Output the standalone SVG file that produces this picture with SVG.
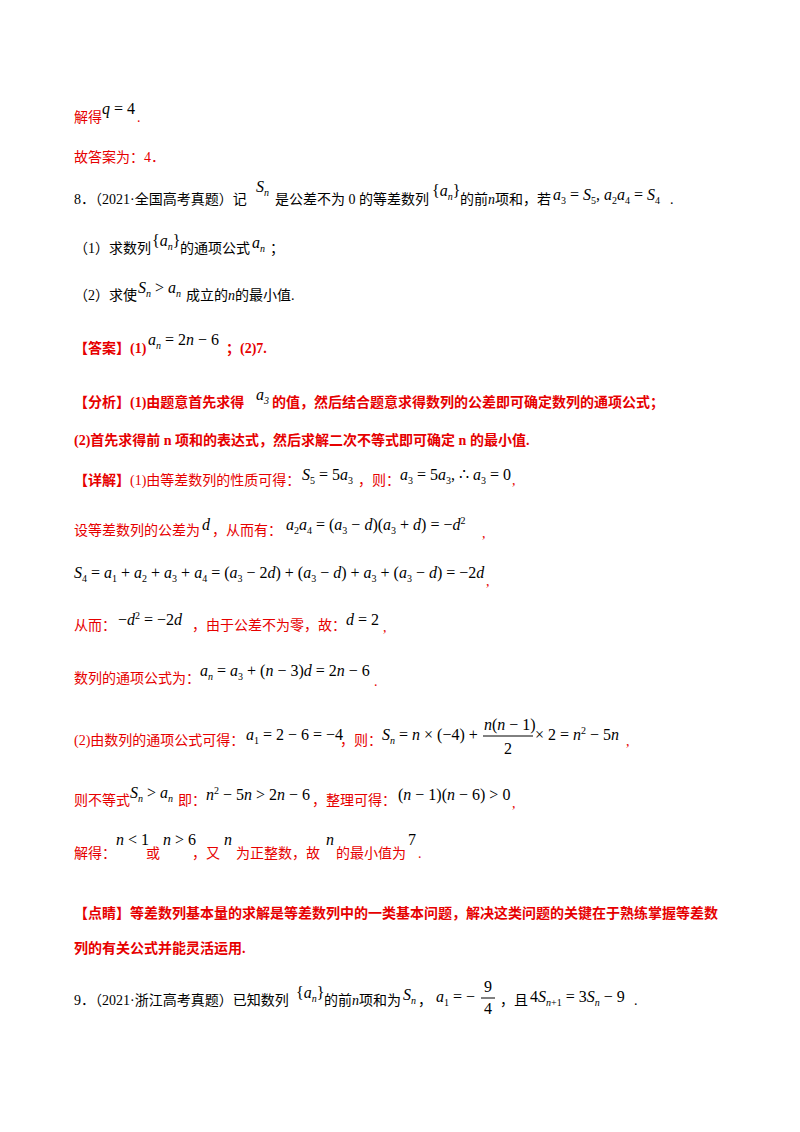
<svg xmlns="http://www.w3.org/2000/svg" width="800" height="1132" viewBox="0 0 800 1132">
<style>
text{font-family:"Liberation Serif","Noto Sans CJK SC",serif;font-size:14px;fill:#000}
.r{fill:#e60000}
.b{font-weight:bold}
.m{font-family:"Liberation Serif",serif;font-size:16px}
.i{font-style:italic}
.s{font-size:10px}
</style>
<rect width="800" height="1132" fill="#fff"/>
<text class="r" x="74" y="122">解得</text>
<text class="m" x="102" y="114"><tspan class="i">q</tspan> = 4</text>
<text class="r" x="137" y="122">.</text>
<text class="r" x="74" y="162">故答案为：4．</text>

<text x="74" y="204">8．（2021·全国高考真题）记</text>
<text class="m" x="256" y="192"><tspan class="i">S</tspan><tspan class="i s" dy="4">n</tspan></text>
<text x="275" y="204">是公差不为 0 的等差数列</text>
<text class="m" x="432" y="196">{<tspan class="i">a</tspan><tspan class="i s" dy="4">n</tspan><tspan dy="-4">}</tspan></text>
<text x="460" y="204">的前<tspan class="i">n</tspan>项和，若</text>
<text class="m" x="553" y="200"><tspan class="i">a</tspan><tspan class="s" dy="4">3</tspan><tspan dy="-4"> = </tspan><tspan class="i">S</tspan><tspan class="s" dy="4">5</tspan><tspan dy="-4">, </tspan><tspan class="i">a</tspan><tspan class="s" dy="4">2</tspan><tspan class="i" dy="-4">a</tspan><tspan class="s" dy="4">4</tspan><tspan dy="-4"> = </tspan><tspan class="i">S</tspan><tspan class="s" dy="4">4</tspan></text>
<text x="670" y="204">.</text>

<text x="74" y="253">（1）求数列</text>
<text class="m" x="152" y="246">{<tspan class="i">a</tspan><tspan class="i s" dy="4">n</tspan><tspan dy="-4">}</tspan></text>
<text x="180" y="253">的通项公式</text>
<text class="m i" x="252" y="248">a<tspan class="s" dy="4">n</tspan></text>
<text x="270" y="253">；</text>

<text x="74" y="300">（2）求使</text>
<text class="m" x="138" y="293"><tspan class="i">S</tspan><tspan class="i s" dy="4">n</tspan><tspan dy="-4"> &gt; </tspan><tspan class="i">a</tspan><tspan class="i s" dy="4">n</tspan></text>
<text x="186" y="300">成立的<tspan class="i">n</tspan>的最小值.</text>

<text class="r b" x="74" y="353">【答案】(1)</text>
<text class="m" x="148" y="345"><tspan class="i">a</tspan><tspan class="i s" dy="4">n</tspan><tspan dy="-4"> = 2</tspan><tspan class="i">n</tspan> − 6</text>
<text class="r b" x="226" y="353">；(2)7.</text>

<text class="r b" x="74" y="407">【分析】(1)由题意首先求得</text>
<text class="m i" x="256" y="400">a<tspan class="s" dy="4">3</tspan></text>
<text class="r b" x="272" y="407">的值，然后结合题意求得数列的公差即可确定数列的通项公式；</text>
<text class="r b" x="74" y="445">(2)首先求得前 n 项和的表达式，然后求解二次不等式即可确定 n 的最小值.</text>

<text class="r" x="74" y="485"><tspan class="b">【详解】</tspan>(1)由等差数列的性质可得：</text>
<text class="m" x="302" y="480"><tspan class="i">S</tspan><tspan class="s" dy="4">5</tspan><tspan dy="-4"> = 5</tspan><tspan class="i">a</tspan><tspan class="s" dy="4">3</tspan></text>
<text class="r" x="358" y="485">，则：</text>
<text class="m" x="400" y="480"><tspan class="i">a</tspan><tspan class="s" dy="4">3</tspan><tspan dy="-4"> = 5</tspan><tspan class="i">a</tspan><tspan class="s" dy="4">3</tspan><tspan dy="-4">, ∴ </tspan><tspan class="i">a</tspan><tspan class="s" dy="4">3</tspan><tspan dy="-4"> = 0</tspan></text>
<text class="r" x="512" y="485">,</text>

<text class="r" x="74" y="535">设等差数列的公差为</text>
<text class="m i" x="202" y="530">d</text>
<text class="r" x="212" y="535">，从而有：</text>
<text class="m" x="286" y="530"><tspan class="i">a</tspan><tspan class="s" dy="4">2</tspan><tspan class="i" dy="-4">a</tspan><tspan class="s" dy="4">4</tspan><tspan dy="-4"> = (</tspan><tspan class="i">a</tspan><tspan class="s" dy="4">3</tspan><tspan dy="-4"> − </tspan><tspan class="i">d</tspan>)(<tspan class="i">a</tspan><tspan class="s" dy="4">3</tspan><tspan dy="-4"> + </tspan><tspan class="i">d</tspan>) = −<tspan class="i">d</tspan><tspan class="s" dy="-6">2</tspan></text>
<text class="r" x="482" y="538">,</text>

<text class="m" x="74" y="578"><tspan class="i">S</tspan><tspan class="s" dy="4">4</tspan><tspan dy="-4"> = </tspan><tspan class="i">a</tspan><tspan class="s" dy="4">1</tspan><tspan dy="-4"> + </tspan><tspan class="i">a</tspan><tspan class="s" dy="4">2</tspan><tspan dy="-4"> + </tspan><tspan class="i">a</tspan><tspan class="s" dy="4">3</tspan><tspan dy="-4"> + </tspan><tspan class="i">a</tspan><tspan class="s" dy="4">4</tspan><tspan dy="-4"> = (</tspan><tspan class="i">a</tspan><tspan class="s" dy="4">3</tspan><tspan dy="-4"> − 2</tspan><tspan class="i">d</tspan>) + (<tspan class="i">a</tspan><tspan class="s" dy="4">3</tspan><tspan dy="-4"> − </tspan><tspan class="i">d</tspan>) + <tspan class="i">a</tspan><tspan class="s" dy="4">3</tspan><tspan dy="-4"> + (</tspan><tspan class="i">a</tspan><tspan class="s" dy="4">3</tspan><tspan dy="-4"> − </tspan><tspan class="i">d</tspan>) = −2<tspan class="i">d</tspan></text>
<text class="r" x="486" y="586">,</text>

<text class="r" x="74" y="630">从而：</text>
<text class="m" x="118" y="625">−<tspan class="i">d</tspan><tspan class="s" dy="-6">2</tspan><tspan dy="6"> = −2</tspan><tspan class="i">d</tspan></text>
<text class="r" x="192" y="630">，由于公差不为零，故：</text>
<text class="m" x="346" y="625"><tspan class="i">d</tspan> = 2</text>
<text class="r" x="383" y="632">,</text>

<text class="r" x="74" y="683">数列的通项公式为：</text>
<text class="m" x="200" y="676"><tspan class="i">a</tspan><tspan class="i s" dy="4">n</tspan><tspan dy="-4"> = </tspan><tspan class="i">a</tspan><tspan class="s" dy="4">3</tspan><tspan dy="-4"> + (</tspan><tspan class="i">n</tspan> − 3)<tspan class="i">d</tspan> = 2<tspan class="i">n</tspan> − 6</text>
<text class="r" x="374" y="686">.</text>

<text class="r" x="74" y="745">(2)由数列的通项公式可得：</text>
<text class="m" x="246" y="740"><tspan class="i">a</tspan><tspan class="s" dy="4">1</tspan><tspan dy="-4"> = 2 − 6 = −4</tspan></text>
<text class="r" x="340" y="745">，则：</text>
<text class="m" x="382" y="740"><tspan class="i">S</tspan><tspan class="i s" dy="4">n</tspan><tspan dy="-4"> = </tspan><tspan class="i">n</tspan> × (−4) +</text>
<text class="m" x="484" y="730"><tspan class="i">n</tspan>(<tspan class="i">n</tspan> − 1)</text>
<line x1="483" y1="736" x2="533" y2="736" stroke="#000" stroke-width="1"/>
<text class="m" x="504" y="754">2</text>
<text class="m" x="535" y="740">× 2 = <tspan class="i">n</tspan><tspan class="s" dy="-6">2</tspan><tspan dy="6"> − 5</tspan><tspan class="i">n</tspan></text>
<text class="r" x="626" y="746">,</text>

<text class="r" x="74" y="805">则不等式</text>
<text class="m" x="130" y="798"><tspan class="i">S</tspan><tspan class="i s" dy="4">n</tspan><tspan dy="-4"> &gt; </tspan><tspan class="i">a</tspan><tspan class="i s" dy="4">n</tspan></text>
<text class="r" x="178" y="805">即：</text>
<text class="m" x="206" y="800"><tspan class="i">n</tspan><tspan class="s" dy="-6">2</tspan><tspan dy="6"> − 5</tspan><tspan class="i">n</tspan> &gt; 2<tspan class="i">n</tspan> − 6</text>
<text class="r" x="312" y="805">，整理可得：</text>
<text class="m" x="398" y="800">(<tspan class="i">n</tspan> − 1)(<tspan class="i">n</tspan> − 6) &gt; 0</text>
<text class="r" x="512" y="808">,</text>

<text class="r" x="74" y="858">解得：</text>
<text class="m" x="116" y="845"><tspan class="i">n</tspan> &lt; 1</text>
<text class="r" x="146" y="858">或</text>
<text class="m" x="163" y="845"><tspan class="i">n</tspan> &gt; 6</text>
<text class="r" x="192" y="858">，又</text>
<text class="m i" x="224" y="845">n</text>
<text class="r" x="236" y="858">为正整数，故</text>
<text class="m i" x="326" y="845">n</text>
<text class="r" x="336" y="858">的最小值为</text>
<text class="m" x="408" y="845">7</text>
<text class="r" x="418" y="858">.</text>

<text class="r b" x="74" y="918">【点睛】等差数列基本量的求解是等差数列中的一类基本问题，解决这类问题的关键在于熟练掌握等差数</text>
<text class="r b" x="74" y="953">列的有关公式并能灵活运用.</text>

<text x="74" y="1005">9．（2021·浙江高考真题）已知数列</text>
<text class="m" x="296" y="998">{<tspan class="i">a</tspan><tspan class="i s" dy="4">n</tspan><tspan dy="-4">}</tspan></text>
<text x="324" y="1005">的前<tspan class="i">n</tspan>项和为</text>
<text class="m" x="403" y="1000"><tspan class="i">S</tspan><tspan class="i s" dy="4">n</tspan></text>
<text x="418" y="1005">，</text>
<text class="m" x="436" y="1002"><tspan class="i">a</tspan><tspan class="s" dy="4">1</tspan><tspan dy="-4"> = −</tspan></text>
<text class="m" x="484" y="992">9</text>
<line x1="481" y1="998" x2="495" y2="998" stroke="#000" stroke-width="1"/>
<text class="m" x="484" y="1014">4</text>
<text x="500" y="1005">，且</text>
<text class="m" x="530" y="1002">4<tspan class="i">S</tspan><tspan class="i s" dy="4">n</tspan><tspan class="s">+1</tspan><tspan dy="-4"> = 3</tspan><tspan class="i">S</tspan><tspan class="i s" dy="4">n</tspan><tspan dy="-4"> − 9</tspan></text>
<text x="634" y="1005">.</text>
</svg>
